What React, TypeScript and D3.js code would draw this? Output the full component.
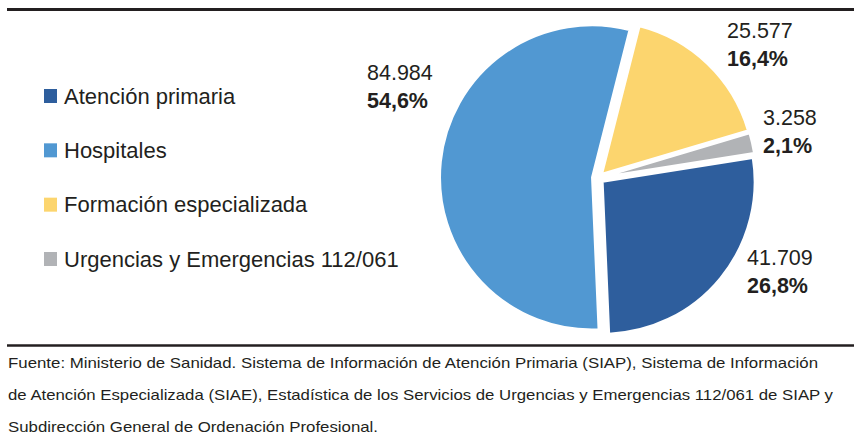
import React from 'react';
import * as d3 from 'd3';

const categories = ['Atención primaria', 'Hospitales', 'Formación especializada', 'Urgencias y Emergencias 112/061'];
const values = [41709, 84984, 25577, 3258];
const colors = ['#2e5e9d', '#5198d2', '#fcd56e', '#b1b3b6'];

const footerLines = [
  'Fuente: Ministerio de Sanidad. Sistema de Información de Atención Primaria (SIAP), Sistema de Información',
  'de Atención Especializada (SIAE), Estadística de los Servicios de Urgencias y Emergencias 112/061 de SIAP y',
  'Subdirección General de Ordenación Profesional.'
];

// where each value label sits (x, first baseline)
const labelPos: [number, number][] = [[747, 265], [367, 80], [727, 38], [763, 125]];
const footerWidths = [810, 825, 370];

const W = 854, H = 445;
const cx = 598, cy = 178, radius = 152, explode = 6;
const font = '"Liberation Sans", Arial, Helvetica, sans-serif';
const ink = '#231f20';

const esLocale = d3.formatLocale({ decimal: ',', thousands: '.', grouping: [3], currency: ['', '€'] });
const fmtNum = esLocale.format(',d');
const fmtPct = esLocale.format('.1f');

export default function App() {
  const total = d3.sum(values);
  const pie = d3.pie<number>()
    .value((d) => d)
    .sort(null)
    .startAngle((81 * Math.PI) / 180)
    .endAngle((81 * Math.PI) / 180 + 2 * Math.PI);
  const arcs = pie(values);
  const arc = d3.arc<d3.PieArcDatum<number>>().innerRadius(0).outerRadius(radius);

  const rowY = d3.scalePoint<string>().domain(categories).range([96, 259]);

  return (
    <svg width={W} height={H} style={{ position: 'absolute', left: 0, top: 0, background: '#fff' }} fontFamily={font}>
      <line x1={7} x2={W} y1={9.5} y2={9.5} stroke={ink} strokeWidth={3} />
      <line x1={7} x2={W} y1={345.5} y2={345.5} stroke={ink} strokeWidth={2.5} />

      <g transform={`translate(${cx},${cy})`}>
        {arcs.map((a, i) => {
          const mid = (a.startAngle + a.endAngle) / 2;
          const dx = Math.sin(mid) * explode;
          const dy = -Math.cos(mid) * explode;
          return (
            <path key={i} d={arc(a) || ''} fill={colors[i]} stroke="#fff" strokeWidth={2}
              transform={`translate(${dx},${dy})`} />
          );
        })}
      </g>

      {arcs.map((a, i) => (
        <g key={i} fill={ink} fontSize={21.5}>
          <text x={labelPos[i][0]} y={labelPos[i][1]}>{fmtNum(values[i])}</text>
          <text x={labelPos[i][0]} y={labelPos[i][1] + 28} fontWeight="bold">
            {fmtPct((values[i] / total) * 100)}%
          </text>
        </g>
      ))}

      {categories.map((c, i) => (
        <g key={c} transform={`translate(44,${rowY(c)})`}>
          <rect x={0} y={-7} width={13} height={14} fill={colors[i]} />
          <text x={20} y={7.5} fontSize={22} fill={ink}>{c}</text>
        </g>
      ))}

      {footerLines.map((t, i) => (
        <text key={i} x={8} y={368 + i * 32} fontSize={15} fill={ink}
          textLength={footerWidths[i]} lengthAdjust="spacingAndGlyphs">{t}</text>
      ))}
    </svg>
  );
}
